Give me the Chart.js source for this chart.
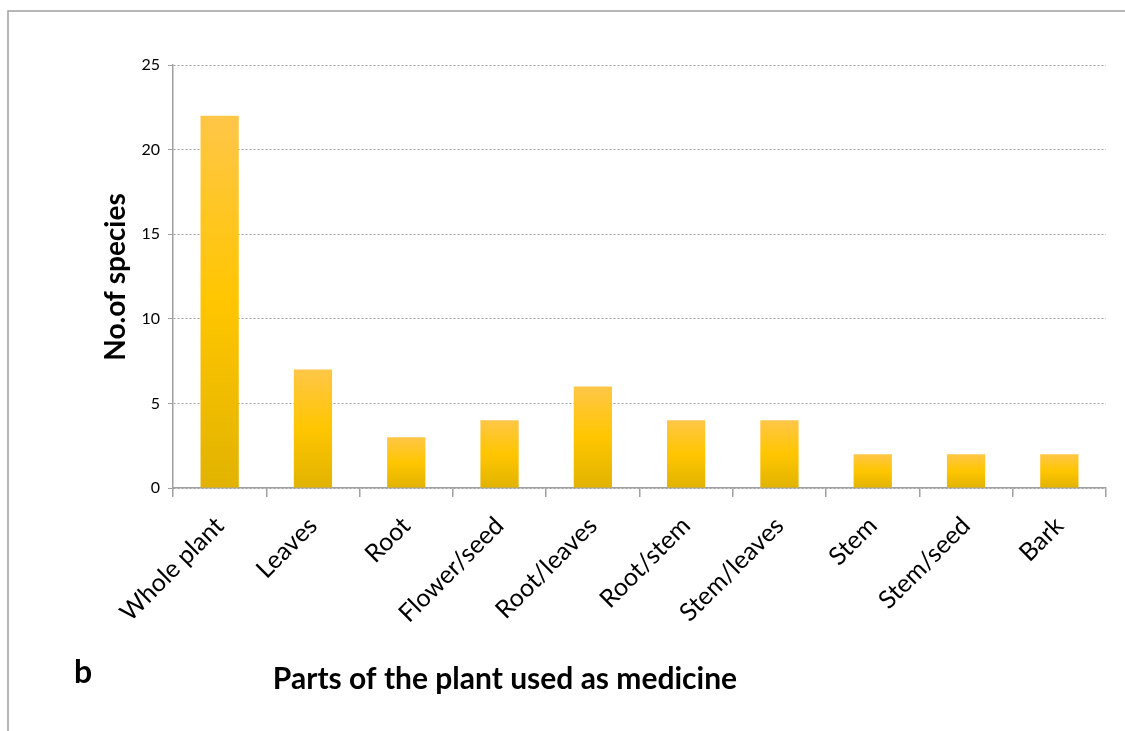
<!DOCTYPE html>
<html>
<head>
<meta charset="utf-8">
<script src="https://cdn.jsdelivr.net/npm/chart.js@4"></script>
<style>
  html, body { margin: 0; padding: 0; background: #fff; }
  #wrap { width: 1125px; height: 731px; }
</style>
</head>
<body>
<div id="wrap"><canvas id="myChart" width="1125" height="731"></canvas></div>
<script>
const ctx = document.getElementById("myChart").getContext("2d");

const parts = [
  "Whole plant",
  "Leaves",
  "Root",
  "Flower/seed",
  "Root/leaves",
  "Root/stem",
  "Stem/leaves",
  "Stem",
  "Stem/seed",
  "Bark",
];
const speciesCount = [22, 7, 3, 4, 6, 4, 4, 2, 2, 2];
const yTicks = [0, 5, 10, 15, 20, 25];

const fontFamily = "Lato, 'Open Sans', sans-serif";
const axisGray = "#a0a0a0";

// each bar gets its own vertical gradient, light top to darker base
function barGradient(context) {
  const chart = context.chart;
  const y = chart.scales.y;
  if (!y || context.type !== "data") return "#ffc600";
  const top = y.getPixelForValue(context.raw);
  const bottom = y.getPixelForValue(0);
  if (!isFinite(top) || !isFinite(bottom) || top === bottom) return "#ffc600";
  const g = chart.ctx.createLinearGradient(0, top, 0, bottom);
  g.addColorStop(0, "#ffc648");
  g.addColorStop(0.5, "#ffc600");
  g.addColorStop(1, "#e1b300");
  return g;
}

const frameAndTitles = {
  id: "frameAndTitles",
  afterDraw(chart) {
    const c = chart.ctx;
    c.save();
    c.strokeStyle = axisGray;
    c.lineWidth = 1.5;
    c.strokeRect(8, 11, 1300, 900);

    c.fillStyle = "#000";
    c.textAlign = "center";
    c.textBaseline = "alphabetic";
    c.font = "bold 30px " + fontFamily;
    c.fillText("Parts of the plant used as medicine", 505, 689);

    c.font = "bold 32px " + fontFamily;
    c.fillText("b", 83, 683);

    c.translate(116, 277);
    c.rotate(-Math.PI / 2);
    c.textBaseline = "middle";
    c.font = "bold 28px " + fontFamily;
    c.fillText("No.of species", 0, 0);
    c.restore();
  },
};

const myChart = new Chart(ctx, {
  type: "bar",
  data: {
    labels: parts,
    datasets: [
      {
        label: "No.of species",
        data: speciesCount,
        backgroundColor: barGradient,
        borderWidth: 0,
        categoryPercentage: 1,
        barPercentage: 0.41,
      },
    ],
  },
  options: {
    responsive: false,
    animation: false,
    layout: { padding: { left: 0, top: 65, right: 19, bottom: 0 } },
    plugins: {
      legend: { display: false },
      tooltip: { enabled: false },
    },
    scales: {
      x: {
        afterFit(scale) {
          scale.height = 243;
        },
        grid: {
          drawOnChartArea: false,
          drawTicks: true,
          tickLength: 9,
          color: axisGray,
          lineWidth: 1.5,
        },
        border: { color: axisGray, width: 1.5 },
        ticks: {
          minRotation: 45,
          maxRotation: 45,
          color: "#000",
          padding: 14,
          font: { family: fontFamily, size: 25 },
        },
      },
      y: {
        min: 0,
        max: 25,
        afterFit(scale) {
          scale.width = 173;
        },
        afterBuildTicks(scale) {
          scale.ticks = yTicks.map((v) => ({ value: v }));
        },
        grid: {
          color: axisGray,
          lineWidth: 1,
          tickLength: 5,
          tickColor: axisGray,
          tickBorderDash: [],
        },
        border: { color: axisGray, width: 1.5, dash: [2, 2] },
        ticks: {
          color: "#000",
          padding: 8,
          font: { family: fontFamily, size: 16 },
        },
      },
    },
  },
  plugins: [frameAndTitles],
});
</script>
</body>
</html>
